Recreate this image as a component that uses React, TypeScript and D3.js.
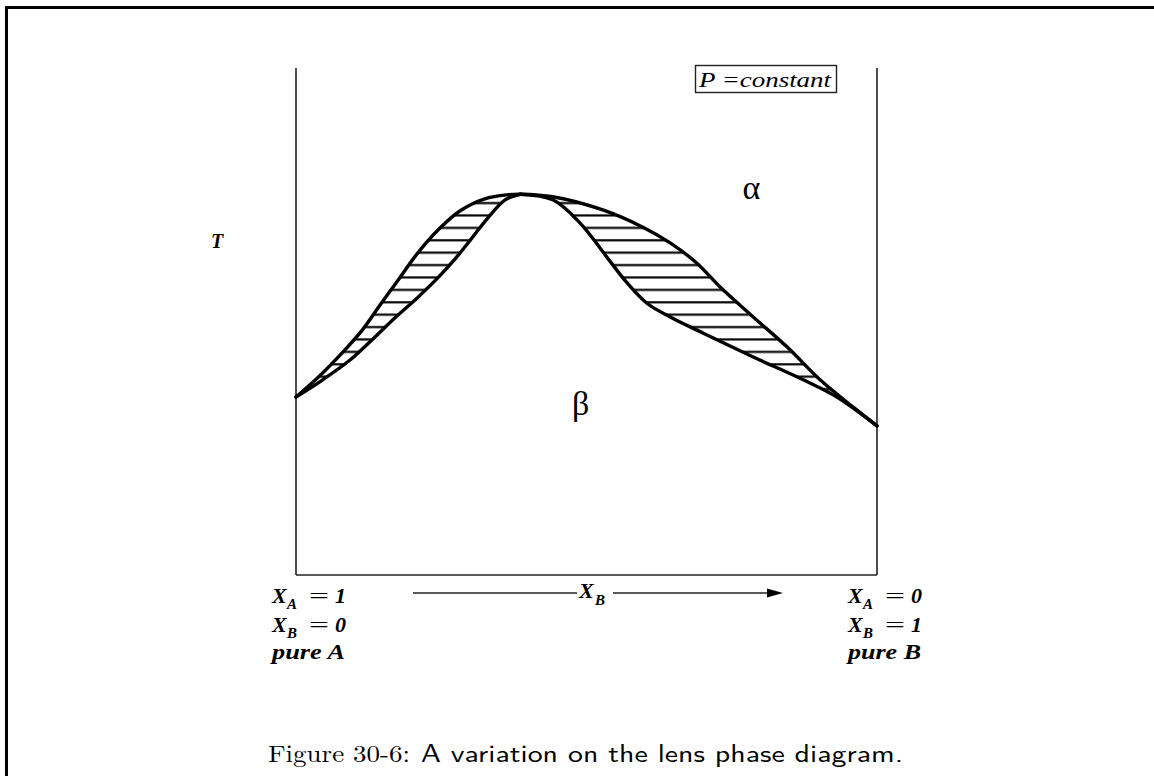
import React from 'react';
import * as d3 from 'd3';

const W = 1154;
const H = 776;

// Composition X_B (0 = pure A, 1 = pure B) against relative temperature T.
// Left lens (between pure A and the maximum)
const leftUpperX = [0, 0.041, 0.081, 0.114, 0.145, 0.176, 0.208, 0.244, 0.282, 0.325, 0.365, 0.386];
const leftUpperT = [0.351, 0.393, 0.44, 0.483, 0.533, 0.582, 0.633, 0.68, 0.718, 0.742, 0.75, 0.751];
const leftLowerX = [0, 0.046, 0.093, 0.131, 0.17, 0.21, 0.244, 0.275, 0.303, 0.33, 0.36, 0.386];
const leftLowerT = [0.351, 0.385, 0.424, 0.464, 0.507, 0.548, 0.586, 0.625, 0.665, 0.704, 0.74, 0.751];

// Right lens (between the maximum and pure B)
const rightUpperX = [0.386, 0.442, 0.528, 0.597, 0.644, 0.69, 0.73, 0.787, 0.845, 0.902, 0.959, 1.0];
const rightUpperT = [0.751, 0.746, 0.72, 0.686, 0.655, 0.615, 0.568, 0.509, 0.45, 0.385, 0.331, 0.294];
const rightLowerX = [0.386, 0.442, 0.489, 0.535, 0.57, 0.604, 0.644, 0.701, 0.787, 0.873, 0.931, 1.0];
const rightLowerT = [0.751, 0.74, 0.694, 0.627, 0.576, 0.536, 0.509, 0.477, 0.43, 0.385, 0.351, 0.294];

// Phase labels
const phaseLabels = [
  { text: 'α', x: 0.784, t: 0.742 },
  { text: 'β', x: 0.49, t: 0.316 },
];

const leftEnd = ['X', 'A', '1', 'X', 'B', '0', 'pure A'];
const rightEnd = ['X', 'A', '0', 'X', 'B', '1', 'pure B'];

type Pt = [number, number];
const zip = (xs: number[], ts: number[]): Pt[] => xs.map((v, i) => [v, ts[i]]);

const x = d3.scaleLinear().domain([0, 1]).range([296, 877]);
const y = d3.scaleLinear().domain([0, 1]).range([575, 68]);

const line = d3
  .line<Pt>()
  .x((d) => x(d[0]))
  .y((d) => y(d[1]))
  .curve(d3.curveCatmullRom.alpha(0.5));

function lensPath(upper: Pt[], lower: Pt[]): string {
  const a = line(upper) || '';
  const b = (line([...lower].reverse()) || '').replace(/^M/, 'L');
  return a + b + 'Z';
}

const serif = '"Liberation Serif", "Times New Roman", serif';

function EndLabel({ x0, parts }: { x0: number; parts: string[] }) {
  const fs = 22;
  const sub = 15;
  const rows = [
    { base: 603, main: parts[0], s: parts[1], v: parts[2] },
    { base: 632, main: parts[3], s: parts[4], v: parts[5] },
  ];
  return (
    <g fontFamily={serif} fontStyle="italic" fontWeight="bold" fill="#000">
      {rows.map((r, i) => (
        <g key={i}>
          <text x={x0} y={r.base} fontSize={fs}>{r.main}</text>
          <text x={x0 + 15} y={r.base + 6} fontSize={sub}>{r.s}</text>
          <text x={x0 + 37} y={r.base} fontSize={fs} fontStyle="normal" fontWeight="normal" textLength={20} lengthAdjust="spacingAndGlyphs">=</text>
          <text x={x0 + 63} y={r.base} fontSize={fs}>{r.v}</text>
        </g>
      ))}
      <text x={x0} y={659} fontSize={fs} textLength={73} lengthAdjust="spacingAndGlyphs">{parts[6]}</text>
    </g>
  );
}

export default function App() {
  const leftU = zip(leftUpperX, leftUpperT);
  const leftL = zip(leftLowerX, leftLowerT);
  const rightU = zip(rightUpperX, rightUpperT);
  const rightL = zip(rightLowerX, rightLowerT);

  const arrowY = 593;
  return (
    <svg
      width={W}
      height={H}
      viewBox={`0 0 ${W} ${H}`}
      style={{ position: 'absolute', left: 0, top: 0, background: '#fff' }}
    >
      <defs>
        <pattern id="hatch" patternUnits="userSpaceOnUse" x={0} y={197} width={40} height={12.4}>
          <line x1={0} x2={40} y1={6} y2={6} stroke="#000" strokeWidth={2.2} />
        </pattern>
      </defs>
      <rect x={0} y={0} width={W} height={H} fill="#fff" />

      {/* page frame */}
      <line x1={5} x2={W} y1={7.5} y2={7.5} stroke="#000" strokeWidth={3} />
      <line x1={6.5} x2={6.5} y1={6} y2={H} stroke="#000" strokeWidth={3} />

      {/* axes box, open at the top */}
      <g stroke="#222" strokeWidth={1.6} fill="none">
        <line x1={x(0)} x2={x(0)} y1={y(1)} y2={y(0)} />
        <line x1={x(1)} x2={x(1)} y1={y(1)} y2={y(0)} />
        <line x1={x(0)} x2={x(1)} y1={y(0)} y2={y(0)} />
      </g>

      {/* two-phase lenses */}
      <path d={lensPath(leftU, leftL)} fill="url(#hatch)" />
      <path d={lensPath(rightU, rightL)} fill="url(#hatch)" />
      <g fill="none" stroke="#000" strokeWidth={3.4} strokeLinejoin="round" strokeLinecap="round">
        <path d={line(leftU) || ''} />
        <path d={line(leftL) || ''} />
        <path d={line(rightU) || ''} />
        <path d={line(rightL) || ''} />
      </g>

      {/* phase labels */}
      {phaseLabels.map((p) => (
        <text key={p.text} x={x(p.x)} y={y(p.t)} fontFamily={serif} fontSize={34} textAnchor="middle">
          {p.text}
        </text>
      ))}

      {/* P = constant box */}
      <rect x={695.5} y={65.5} width={141} height={27} fill="none" stroke="#222" strokeWidth={1.4} />
      <text x={699} y={87} fontFamily={serif} fontStyle="italic" fontSize={21} textLength={132} lengthAdjust="spacingAndGlyphs">
        P =constant
      </text>

      {/* temperature axis label */}
      <text x={211} y={248} fontFamily={serif} fontStyle="italic" fontWeight="bold" fontSize={20}>T</text>

      {/* composition arrow */}
      <g stroke="#222" strokeWidth={1.6}>
        <line x1={413} x2={577} y1={arrowY} y2={arrowY} />
        <line x1={613} x2={770} y1={arrowY} y2={arrowY} />
      </g>
      <polygon points={`767,${arrowY - 4.5} 783,${arrowY} 767,${arrowY + 4.5}`} fill="#000" />
      <text x={579} y={598} fontFamily={serif} fontStyle="italic" fontWeight="bold" fontSize={22}>X</text>
      <text x={595} y={605} fontFamily={serif} fontStyle="italic" fontWeight="bold" fontSize={15}>B</text>

      <EndLabel x0={272} parts={leftEnd} />
      <EndLabel x0={848} parts={rightEnd} />

      {/* caption */}
      <text x={268} y={762} fontFamily='"Latin Modern Roman", "DejaVu Serif", serif' fontSize={24} textLength={142} lengthAdjust="spacingAndGlyphs">
        Figure 30-6:
      </text>
      <text x={421} y={762} fontFamily='"Latin Modern Sans", "CMU Sans Serif", "DejaVu Sans", sans-serif' fontSize={25} textLength={482} lengthAdjust="spacingAndGlyphs">
        A variation on the lens phase diagram.
      </text>
    </svg>
  );
}
